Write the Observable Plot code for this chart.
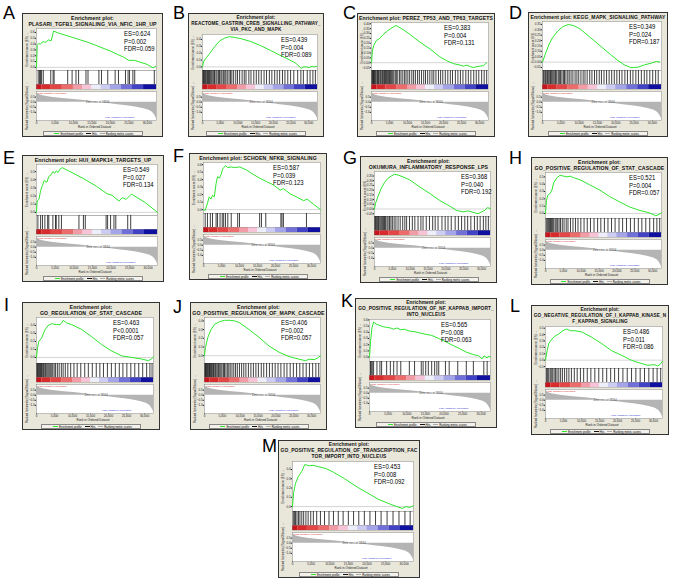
<!DOCTYPE html>
<html><head><meta charset="utf-8">
<script src="https://cdn.jsdelivr.net/npm/d3@7"></script>
<script src="https://cdn.jsdelivr.net/npm/@observablehq/plot@0.6"></script>
<style>
body{margin:0;background:#fff;font-family:"Liberation Sans",Arial,sans-serif;}
#root{position:relative;width:677px;height:584px;overflow:hidden;background:#fff;}
.letter{position:absolute;font-size:18px;line-height:18px;color:#000;}
.panel{position:absolute;background:#e9e6da;border:1px solid #333;box-sizing:border-box;overflow:hidden;}
.ttl{text-align:center;font-weight:bold;font-size:5.2px;letter-spacing:0.1px;line-height:6px;padding-top:1px;white-space:nowrap;box-sizing:border-box;color:#111;overflow:hidden;}
.stats{position:absolute;font-size:7px;line-height:7.7px;color:#000;transform:scaleX(0.85);transform-origin:left top;white-space:nowrap;}
.legend{margin:0 auto;width:100px;height:5px;border:0.5px solid #888;background:#f3f1ea;font-size:2.8px;line-height:5px;text-align:center;white-space:nowrap;box-sizing:border-box;}
.sw{display:inline-block;width:5px;height:0;border-top:0.7px solid #000;vertical-align:middle;margin:0 1px 0 3px;}
svg{display:block;overflow:visible;}
</style></head>
<body><div id="root"></div>
<script>
// ---------- data ----------
const panelLetters = ["A","B","C","D","E","F","G","H","I","J","K","L","M"];
const titleLines = [
  ["Enrichment plot:","PLASARI_TGFB1_SIGNALING_VIA_NFIC_1HR_UP"],
  ["Enrichment plot:","REACTOME_GASTRIN_CREB_SIGNALLING_PATHWAY_","VIA_PKC_AND_MAPK"],
  ["Enrichment plot: PEREZ_TP53_AND_TP63_TARGETS"],
  ["Enrichment plot: KEGG_MAPK_SIGNALING_PATHWAY"],
  ["Enrichment plot: HUI_MAPK14_TARGETS_UP"],
  ["Enrichment plot: SCHOEN_NFKB_SIGNALING"],
  ["Enrichment plot:","OKUMURA_INFLAMMATORY_RESPONSE_LPS"],
  ["Enrichment plot:","GO_POSITIVE_REGULATION_OF_STAT_CASCADE"],
  ["Enrichment plot:","GO_REGULATION_OF_STAT_CASCADE"],
  ["Enrichment plot:","GO_POSITIVE_REGULATION_OF_MAPK_CASCADE"],
  ["Enrichment plot:","GO_POSITIVE_REGULATION_OF_NF_KAPPAB_IMPORT_","INTO_NUCLEUS"],
  ["Enrichment plot:","GO_NEGATIVE_REGULATION_OF_I_KAPPAB_KINASE_N","F_KAPPAB_SIGNALING"],
  ["Enrichment plot:","GO_POSITIVE_REGULATION_OF_TRANSCRIPTION_FAC","TOR_IMPORT_INTO_NUCLEUS"]
];
const esValues  = ["ES=0.624","ES=0.439","ES=0.383","ES=0.349","ES=0.549","ES=0.587","ES=0.368","ES=0.521","ES=0.463","ES=0.406","ES=0.565","ES=0.486","ES=0.453"];
const pValues   = ["P=0.002","P=0.004","P=0.004","P=0.024","P=0.027","P=0.039","P=0.040","P=0.004","P<0.0001","P=0.002","P=0.008","P=0.011","P=0.008"];
const fdrValues = ["FDR=0.059","FDR=0.089","FDR=0.131","FDR=0.187","FDR=0.134","FDR=0.123","FDR=0.192","FDR=0.057","FDR=0.057","FDR=0.057","FDR=0.063","FDR=0.086","FDR=0.092"];

// running enrichment score: [rank (thousands), ES]
const esA = [[0,0],[0.2,0.38],[0.6,0.41],[1.0,0.40],[1.5,0.43],[2.0,0.44],[2.5,0.43],[3.2,0.47],[4.0,0.46],[4.6,0.624],[6,0.59],[8,0.55],[10,0.51],[12,0.47],[14,0.43],[16,0.38],[18,0.33],[20,0.28],[22,0.22],[23.5,0.18],[25,0.12],[26.5,0.12],[28,0.09],[30,0.05],[31.6,-0.01],[32.3,0.02]];
const esB = [[0,0],[0.3,0.07],[0.55,0.10],[1.2,0.14],[2.1,0.2],[3.5,0.3],[4.9,0.38],[6.3,0.42],[7.6,0.439],[9,0.43],[10.9,0.41],[13.6,0.37],[16.4,0.31],[19.2,0.24],[21.9,0.17],[24.7,0.10],[26.5,0.05],[27.4,0.0],[27.9,-0.02],[28.6,0.0],[29.3,0.0],[30.2,-0.01],[31,0.01],[31.6,0.0],[32.3,0.01]];
const esC = [[0,0],[0.28,0.13],[0.65,0.18],[1.4,0.23],[2.3,0.25],[3.25,0.29],[4.2,0.32],[5.1,0.345],[6.0,0.365],[6.8,0.383],[7.4,0.37],[8.8,0.34],[10.7,0.29],[13.5,0.21],[16.3,0.14],[19.0,0.06],[20.9,0.02],[22.8,-0.01],[24.6,-0.025],[25.5,-0.035],[26.5,-0.025],[27.4,-0.04],[28.3,-0.05],[29.3,-0.04],[30.2,-0.035],[31.1,-0.03],[32.0,0.0]];
const esD = [[0,0],[0.93,0.09],[1.86,0.17],[2.8,0.23],[4.2,0.29],[5.6,0.33],[7.0,0.349],[8.4,0.34],[10.2,0.31],[13,0.23],[15.8,0.15],[18.6,0.07],[20.4,0.02],[22.3,-0.025],[24.1,-0.05],[26,-0.048],[27.9,-0.025],[29.7,-0.01],[31.1,0.006],[32,0.0]];
const esE = [[0,0],[0.19,0.14],[0.66,0.16],[1.12,0.27],[1.6,0.33],[2.06,0.39],[2.8,0.37],[3.3,0.44],[3.9,0.46],[4.4,0.50],[4.9,0.48],[5.3,0.51],[5.8,0.49],[6.3,0.53],[6.9,0.549],[8.6,0.51],[12.4,0.42],[16.1,0.32],[18.9,0.23],[20.3,0.21],[21.3,0.17],[22.2,0.14],[23.1,0.18],[24.1,0.16],[25.5,0.225],[29.2,0.12],[32.5,0]];
const esF = [[0,0],[0.47,-0.01],[1.12,0.09],[1.6,0.17],[2.06,0.14],[2.5,0.19],[3.0,0.17],[3.5,0.35],[3.9,0.44],[4.4,0.42],[4.9,0.47],[5.3,0.54],[6.1,0.587],[6.75,0.56],[7.7,0.57],[8.6,0.56],[10,0.57],[11.9,0.53],[13.8,0.47],[15.6,0.42],[17.5,0.375],[19.4,0.33],[21.3,0.26],[22.2,0.28],[24.1,0.21],[26,0.165],[27.8,0.12],[28.8,0.14],[30.6,0.07],[32.5,0]];
const esG = [[0,0],[0.28,0.06],[0.94,0.13],[1.9,0.22],[2.8,0.28],[3.75,0.325],[4.7,0.35],[5.6,0.368],[6.6,0.36],[8,0.34],[9.8,0.31],[12.6,0.235],[15.5,0.165],[18.3,0.09],[21.1,0.03],[23,-0.015],[24.8,-0.03],[26.2,-0.02],[27.6,-0.035],[29,-0.05],[30,-0.03],[30.9,-0.015],[31.6,0.015],[32.5,0.005]];
const esH = [[0,0],[0.28,0.18],[0.65,0.25],[1.4,0.28],[1.8,0.32],[2.3,0.42],[3.2,0.49],[4.1,0.521],[5.1,0.51],[6,0.50],[6.9,0.51],[7.8,0.49],[9.7,0.46],[12.4,0.39],[15.2,0.32],[18,0.23],[20.7,0.16],[23.5,0.09],[26.2,0.045],[29,0.01],[30.9,-0.03],[31.8,-0.015],[32.5,0.01]];
const esI = [[0,0],[0.28,0.12],[0.65,0.2],[1.4,0.24],[2.3,0.34],[3.25,0.4],[4.2,0.42],[5.6,0.41],[6.5,0.41],[7,0.43],[7.4,0.463],[8.4,0.43],[9.75,0.41],[12.5,0.35],[15.3,0.26],[18.1,0.16],[20.9,0.08],[23.7,0.02],[26.5,0],[29.3,-0.02],[31.1,-0.04],[31.9,-0.02],[32.5,0.01]];
const esJ = [[0,0],[0.28,0.095],[0.93,0.21],[1.86,0.30],[2.8,0.36],[4.2,0.39],[5.6,0.406],[7,0.406],[8.4,0.40],[9.75,0.38],[12.5,0.30],[15.3,0.21],[18.1,0.11],[20.9,0.04],[23.7,-0.01],[26.5,-0.04],[28.3,-0.057],[29.3,-0.04],[30.7,-0.045],[31.6,-0.03],[32.5,0]];
const esK = [[0,0],[0.28,0.25],[0.65,0.47],[1.1,0.565],[1.86,0.53],[2.8,0.51],[3.7,0.49],[4.6,0.48],[5.6,0.47],[6.5,0.45],[7.4,0.47],[8.4,0.44],[9.3,0.45],[10.7,0.42],[12.1,0.41],[14.9,0.37],[16.7,0.35],[18.6,0.30],[20.4,0.25],[22.3,0.19],[24.1,0.14],[26,0.08],[27.9,0.04],[29.3,0.02],[30.2,-0.03],[30.8,0.02],[31.6,-0.015],[32,0.015],[32.5,0]];
const esL = [[0,0],[0.46,0.15],[0.9,0.26],[1.8,0.33],[2.75,0.38],[3.7,0.41],[4.6,0.45],[5.5,0.48],[5.95,0.486],[6.9,0.46],[8.2,0.46],[10.1,0.44],[12.8,0.36],[15.6,0.26],[18.3,0.15],[21,0.08],[23.8,0],[26.5,-0.05],[28.4,-0.08],[30.2,-0.07],[31.1,-0.09],[31.8,-0.07],[32.5,-0.015]];
const esM = [[0,0],[0.3,0.15],[0.8,0.25],[1.5,0.32],[2.5,0.38],[3.3,0.453],[4.5,0.44],[5.5,0.445],[7,0.43],[9,0.41],[11,0.37],[14,0.30],[17,0.22],[20,0.15],[23,0.08],[26,0.03],[28,0.0],[29.5,-0.02],[30.5,0.0],[31.5,-0.01],[32.5,0.01]];

// hit positions (rank, thousands)
const hitsA = [0.46,0.83,1.1,1.38,1.84,3.86,4.5,4.77,8.45,9.64,10.7,11.4,13.4,13.95,16.9,17.6,19.3,21.3,22.2,24.1,24.8,25.2,26.1,26.6,31.9];
const hitsB = [0.1,0.3,0.5,0.7,0.9,1.2,1.4,1.7,2.0,2.2,2.5,2.9,3.2,3.4,3.8,4.1,4.5,4.8,5.2,5.5,5.9,6.3,6.6,7.0,7.5,7.9,8.3,8.8,9.4,9.9,10.5,11.2,11.8,12.3,13.1,13.7,14.5,15.2,15.9,16.6,17.4,18.1,18.9,19.6,20.4,21.1,21.8,22.6,23.3,24.1,24.9,25.8,26.9,27.8,28.5,29.6,30.4,31.2,31.9];
const hitsC = [0.1,0.3,0.5,0.6,0.8,1.0,1.2,1.5,1.7,1.9,2.1,2.4,2.6,2.9,3.1,3.4,3.6,3.9,4.2,4.4,4.7,5.0,5.3,5.6,5.9,6.2,6.6,6.9,7.3,7.8,8.2,8.7,9.2,9.6,10.1,10.6,11.2,11.7,12.2,12.8,13.3,13.9,14.5,15.0,15.6,16.2,16.8,17.3,17.9,18.6,19.2,19.8,20.5,21.2,21.9,22.5,23.3,24.0,24.7,25.4,26.2,26.9,27.6,28.4,29.1,29.8,30.6,31.3,32.0];
const hitsD = [0.2,0.4,0.7,0.9,1.2,1.4,1.7,2.0,2.2,2.5,2.8,3.1,3.4,3.6,3.9,4.3,4.6,4.9,5.3,5.7,6.0,6.4,6.9,7.3,7.8,8.3,8.9,9.4,9.9,10.5,11.1,11.6,12.2,12.9,13.5,14.2,14.8,15.5,16.1,16.8,17.5,18.2,18.9,19.6,20.3,21.0,21.7,22.5,23.2,24.0,24.7,25.5,26.2,27.0,27.8,28.5,29.3,30.1,30.9,31.6];
const hitsE = [0.37,1.1,1.6,2.25,3.0,3.3,4.4,5.1,5.3,6.0,6.7,11.4,12.6,13.1,18.7,19.1,19.9,20.8,21.3,24.5,25.3];
const hitsF = [0.47,1.1,1.9,2.5,3.5,3.9,4.6,5.2,5.6,6.1,6.75,7.7,9.5,10.0,15.6,16.1,17.3,21.5,21.8,22.2,28.6];
const hitsG = [0.1,0.3,0.6,0.8,1.1,1.3,1.6,1.9,2.2,2.5,2.8,3.1,3.5,3.8,4.2,4.6,5.0,5.5,6.0,6.6,7.2,7.9,8.5,9.0,9.8,10.6,11.3,12.2,13.0,13.6,14.5,15.4,16.3,17.0,17.8,18.9,19.8,20.6,21.5,22.6,23.5,24.4,25.3,26.1,27.0,28.0,28.8,29.6,30.5,31.2,31.9];
const hitsH = [0.2,0.5,0.8,1.1,1.4,1.7,2.0,2.3,2.7,3.0,3.4,3.8,4.2,4.7,5.2,5.8,6.3,7.0,7.7,8.4,9.1,9.9,10.8,11.7,12.6,13.6,14.6,15.5,16.5,17.5,18.5,19.5,20.6,21.6,22.7,23.8,24.9,26.0,27.0,28.1,29.2,30.3,31.2,32.0];
const hitsI = [0.1,0.3,0.5,0.7,0.9,1.1,1.4,1.6,1.9,2.1,2.4,2.6,2.9,3.2,3.5,3.8,4.1,4.5,4.9,5.3,5.8,6.3,6.9,7.4,8.0,8.7,9.5,10.4,11.3,12.3,13.4,14.4,15.5,16.6,17.6,18.6,19.7,20.8,21.9,23.0,24.0,25.1,26.2,27.3,28.4,29.5,30.6,31.5,32.1];
const hitsJ = [0.1,0.3,0.4,0.6,0.8,1.0,1.2,1.4,1.6,1.8,2.0,2.3,2.5,2.7,3.0,3.2,3.5,3.8,4.0,4.3,4.6,4.9,5.3,5.6,6.0,6.4,6.8,7.2,7.7,8.2,8.7,9.2,9.8,10.4,11.0,11.6,12.3,13.0,13.7,14.4,15.1,15.9,16.6,17.4,18.2,19.0,19.8,20.6,21.4,22.3,23.1,24.0,24.9,25.8,26.7,27.6,28.5,29.4,30.3,31.2,32.0];
const hitsK = [0.28,0.46,0.74,1.1,2.0,2.8,3.25,4.6,5.6,6.5,7.4,8.4,10.7,12.1,13.9,14.4,15.1,15.8,16.7,17.5,18.1,18.6,20.4,21.4,23.7,26,27.9,30.7,31.6];
const hitsL = [0.3,0.6,0.9,1.3,1.6,2.0,2.4,2.8,3.2,3.7,4.2,4.7,5.3,5.9,6.5,7.2,8.0,8.8,9.7,10.6,11.6,12.6,13.7,14.8,15.9,17.0,18.1,19.2,20.3,21.5,22.7,23.9,25.1,26.3,27.5,28.7,29.9,31.0,32.0];
const hitsM = [0.2,0.5,0.8,1.2,1.6,2.0,2.5,3.0,3.6,4.2,4.9,5.6,6.5,7.5,8.6,9.8,11.0,12.3,13.6,15.0,16.4,17.8,19.3,20.8,22.3,23.8,25.4,27.0,28.6,30.2,31.6];

// ranked list metric (shared): rank (thousands), metric value
const metricRank  = [0,0.3,1,2,4,7,11,14,16.55,19,22,24.5,26.8,28.8,30.5,31.4,31.9,32.3,32.5];
const metricValue = [1.0,0.85,0.7,0.6,0.48,0.36,0.24,0.12,0,-0.1,-0.24,-0.35,-0.48,-0.62,-0.8,-0.98,-1.2,-1.45,-1.62];
const zeroCross = 16554;
const metricTicks = [0.5,0,-0.5,-1];

// colour band segments: start rank (thousands) and level
const bandStart = [0,1.5,4,7,10,12.5,15,17.5,20,23,26,29];
const bandLevel = [6,5,4,3,2,1,0,-1,-2,-3,-4,-5];
const rankTicks = [0,5,10,15,20,25,30];
const rankTickLabels = ["0","5,000","10,000","15,000","20,000","25,000","30,000"];
const rankMax = 32.5;

// ---------- styles / layout ----------
const bandColors = ["#c8141c","#d82c2c","#e24646","#ec6c6c","#f29ca8","#f6c4d6","#eeeefa","#cdcdf3","#a4a4e8","#7070d8","#4242c4","#1010a0"];
const layout = [
  {x:22,y:13,w:141,h:124,sx:101,lx:3,ly:4},
  {x:188,y:13,w:136,h:124,sx:92,lx:173,ly:4},
  {x:357,y:13,w:138,h:124,sx:86,lx:343,ly:4},
  {x:528,y:12,w:140,h:125,sx:100,lx:509,ly:4},
  {x:22,y:155,w:142,h:127,sx:100,lx:3,ly:149},
  {x:189,y:153,w:138,h:127,sx:83,lx:173,ly:147},
  {x:360,y:156,w:137,h:127,sx:100,lx:343,ly:149},
  {x:531,y:157,w:137,h:128,sx:97,lx:509,ly:149},
  {x:22,y:302,w:138,h:128,sx:90,lx:4,ly:296},
  {x:190,y:302,w:137,h:128,sx:90,lx:173,ly:298},
  {x:355,y:298,w:142,h:130,sx:85,lx:341,ly:292},
  {x:531,y:305,w:138,h:130,sx:91,lx:510,ly:297},
  {x:278,y:440,w:142,h:138,sx:95,lx:262,ly:437}
];
const esCurves = [esA,esB,esC,esD,esE,esF,esG,esH,esI,esJ,esK,esL,esM];
const hitsList = [hitsA,hitsB,hitsC,hitsD,hitsE,hitsF,hitsG,hitsH,hitsI,hitsJ,hitsK,hitsL,hitsM];
const metric = metricRank.map((r,i)=>({rank:r, value:metricValue[i]}));
const band = bandLevel.map((lv,i)=>({x1:bandStart[i], x2: i+1<bandStart.length ? bandStart[i+1] : rankMax, level:lv}));

const root = document.getElementById("root");
const svgStyle = {fontSize:"3px", fontFamily:"Liberation Sans, Arial, sans-serif", background:"transparent", overflow:"visible", color:"#222"};

function makePanel(i){
  const L = layout[i];
  const letter = document.createElement("div");
  letter.className = "letter";
  letter.textContent = panelLetters[i];
  letter.style.left = L.lx+"px"; letter.style.top = L.ly+"px";
  root.appendChild(letter);

  const p = document.createElement("div");
  p.className = "panel";
  Object.assign(p.style,{left:L.x+"px",top:L.y+"px",width:L.w+"px",height:L.h+"px"});
  root.appendChild(p);
  const tH = 2 + 6*titleLines[i].length;
  const t = document.createElement("div");
  t.className = "ttl";
  t.style.height = tH+"px";
  t.innerHTML = titleLines[i].map(s=>'<span style="display:inline-block">'+s+'</span>').join("<br>");
  p.appendChild(t);
  // shrink the title font only where a line would not fit inside the panel
  const avail = L.w - 4;
  let fs = 5.2;
  const widest = () => d3.max(Array.from(t.querySelectorAll("span")), s => s.getBoundingClientRect().width);
  while (widest() > avail && fs > 3) { fs -= 0.1; t.style.fontSize = fs+"px"; }

  const innerW = L.w - 2;
  const esHgt = L.h - 2 - tH - 66;
  const curve = esCurves[i];
  const ys = curve.map(d=>d[1]);
  const lo = Math.min(0, d3.min(ys)), hi = d3.max(ys);
  const pad = (hi-lo)*0.07;
  const base = {width:innerW, marginLeft:13, marginRight:6, style:svgStyle};

  const esPlot = Plot.plot({...base, height:esHgt, marginTop:0, marginBottom:0,
    x:{domain:[0,rankMax], axis:null},
    y:{domain:[lo-pad, hi+pad], ticks:7, tickSize:1.2, tickPadding:0.6, label:"Enrichment score (ES)", labelAnchor:"center", labelOffset:11},
    marks:[
      Plot.frame({fill:"white", stroke:"#888", strokeWidth:0.5}),
      Plot.ruleY([0],{stroke:"#aaa", strokeWidth:0.5}),
      Plot.line(curve,{x:d=>d[0], y:d=>d[1], stroke:"#2ee62e", strokeWidth:1})
    ]});
  p.appendChild(esPlot);

  const hitPlot = Plot.plot({...base, height:14, marginTop:0, marginBottom:0,
    x:{domain:[0,rankMax], axis:null}, y:{axis:null, domain:[0,1]},
    marks:[
      Plot.frame({fill:"white", stroke:"#888", strokeWidth:0.5}),
      Plot.ruleX(hitsList[i],{x:d=>d, stroke:"#111", strokeWidth:0.8})
    ]});
  p.appendChild(hitPlot);

  const bandPlot = Plot.plot({...base, height:5, marginTop:0, marginBottom:0,
    x:{domain:[0,rankMax], axis:null},
    color:{type:"ordinal", domain:bandLevel, range:bandColors},
    marks:[
      Plot.rect(band,{x1:"x1", x2:"x2", fill:"level"}),
      Plot.frame({stroke:"#888", strokeWidth:0.4})
    ]});
  p.appendChild(bandPlot);

  const gap = document.createElement("div"); gap.style.height="2px"; p.appendChild(gap);

  const metricPlot = Plot.plot({...base, height:39, marginTop:0, marginBottom:10,
    x:{domain:[0,rankMax], ticks:rankTicks, tickFormat:(d)=>rankTickLabels[rankTicks.indexOf(d)], tickSize:1.2, tickPadding:0.6, label:"Rank in Ordered Dataset", labelAnchor:"center", labelOffset:7},
    y:{domain:[-1.8,1.05], ticks:metricTicks, tickFormat:d3.format(".1f"), tickSize:1.2, tickPadding:0.6, label:"Ranked list metric (Signal2Noise)", labelAnchor:"center", labelOffset:11},
    marks:[
      Plot.frame({fill:"white", stroke:"#888", strokeWidth:0.5}),
      Plot.areaY(metric,{x:"rank", y:"value", fill:"#b4b4b4"}),
      Plot.text(["Zero cross at "+zeroCross],{x:zeroCross/1000, y:0, fontSize:2.6, fill:"#333"}),
      Plot.text(["'High' (positively correlated)"],{frameAnchor:"top-left", dx:1, dy:0.5, fontSize:2.4, fill:"#d42020", textAnchor:"start"}),
      Plot.text(["'Low' (negatively correlated)"],{frameAnchor:"bottom-right", dx:-22, dy:-3, fontSize:2.4, fill:"#2222cc", textAnchor:"end"})
    ]});
  p.appendChild(metricPlot);

  const lg = document.createElement("div");
  lg.className = "legend";
  lg.innerHTML = '<span class="sw" style="border-color:#2ee62e"></span>Enrichment profile<span class="sw" style="border-color:#111"></span>Hits<span class="sw" style="border-color:#aaa"></span>Ranking metric scores';
  lg.style.marginTop = "0.5px";
  p.appendChild(lg);

  const st = document.createElement("div");
  st.className = "stats";
  st.style.left = L.sx+"px"; st.style.top = (tH+2)+"px";
  st.innerHTML = [esValues[i], pValues[i], fdrValues[i]].join("<br>");
  p.appendChild(st);
}
panelLetters.forEach((_,i)=>makePanel(i));
</script></body></html>
